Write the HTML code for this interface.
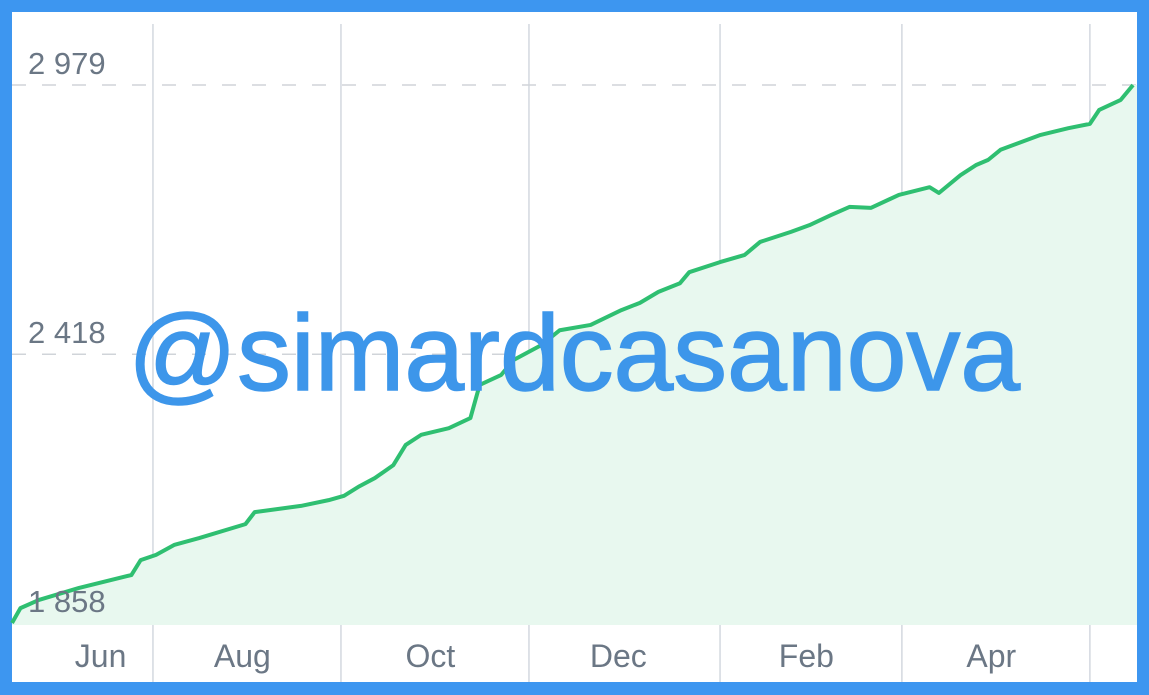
<!DOCTYPE html>
<html><head><meta charset="utf-8"><style>
html,body{margin:0;padding:0;background:#3d96f0;}
svg{display:block;font-family:"Liberation Sans",sans-serif;}
</style></head><body>
<svg id="chart" width="1149" height="695">
<rect x="0" y="0" width="1149" height="695" fill="#3d96f0"/>
<rect x="12" y="12" width="1125" height="670" fill="#ffffff"/>
<g id="grid"></g><g id="series"></g><g id="labels"></g>
<text x="128" y="390" font-size="108" fill="#3d96ea" stroke="#3d96ea" stroke-width="1.5" textLength="892" lengthAdjust="spacingAndGlyphs">@simardcasanova</text>
</svg>
<script>
const days=[-16,-13,-7,6,23,26,31,37,45,60,63,78,87,92,97,102,108,112,117,126,133,136,143,147,156,162,172,182,188,194,201,204,214,222,227,237,243,250,256,263,272,282,285,292,297,301,305,318,327,334,337,344,348];
const values=[1858,1889,1906,1931,1958,1989,2000,2021,2035,2064,2089,2102,2114,2123,2143,2160,2187,2229,2250,2264,2285,2354,2375,2406,2437,2468,2479,2510,2525,2548,2566,2589,2610,2625,2652,2673,2687,2708,2725,2723,2750,2766,2754,2791,2812,2823,2844,2875,2889,2898,2927,2948,2979];
const yTicks=[1858,2418,2979];
const yTickLabels=["1 858","2 418","2 979"];
const gridDays=[30,91,152,214,273,334];
const monthDays=[13,59,120,181,242,302];
const monthLabels=["Jun","Aug","Oct","Dec","Feb","Apr"];
const NS="http://www.w3.org/2000/svg";
const x=d=>60.5+d*3.082;
const y=v=>623-(v-1858)*(538/1121);
function mk(tag,attrs,parent){const e=document.createElementNS(NS,tag);for(const k in attrs)e.setAttribute(k,attrs[k]);parent.appendChild(e);return e;}
const grid=document.getElementById('grid'),series=document.getElementById('series'),labels=document.getElementById('labels');
gridDays.forEach(d=>{const l=mk('line',{x1:x(d),x2:x(d),y1:24,y2:682,stroke:'#d3d8df','stroke-width':1.5},grid);

});
yTicks.slice(1).forEach(v=>{const l=mk('line',{x1:12,x2:1137,y1:y(v),y2:y(v),stroke:'#d0d4d9','stroke-width':1.5,'stroke-dasharray':'14 16'},grid);

});
let pts=days.map((d,i)=>[Math.max(12,x(d)),y(values[i])]);
const area=mk('path',{d:'M'+pts[0][0]+',625 L'+pts.map(p=>p.join(',')).join(' L')+' L1137,'+pts[pts.length-1][1]+' L1137,625 Z',fill:'#e8f8ef'},series);


const line=mk('path',{d:'M'+pts.map(p=>p.join(',')).join(' L'),fill:'none',stroke:'#2fbf71','stroke-width':4,'stroke-linejoin':'round'},series);


yTicks.forEach((v,i)=>{const t=mk('text',{x:28,y:y(v)-11,'font-size':31,fill:'#6b7785'},labels);t.textContent=yTickLabels[i];

});
monthDays.forEach((d,i)=>{const t=mk('text',{x:x(d),y:667,'font-size':32,fill:'#6b7785','text-anchor':'middle'},labels);t.textContent=monthLabels[i];

});
</script>
</body></html>
